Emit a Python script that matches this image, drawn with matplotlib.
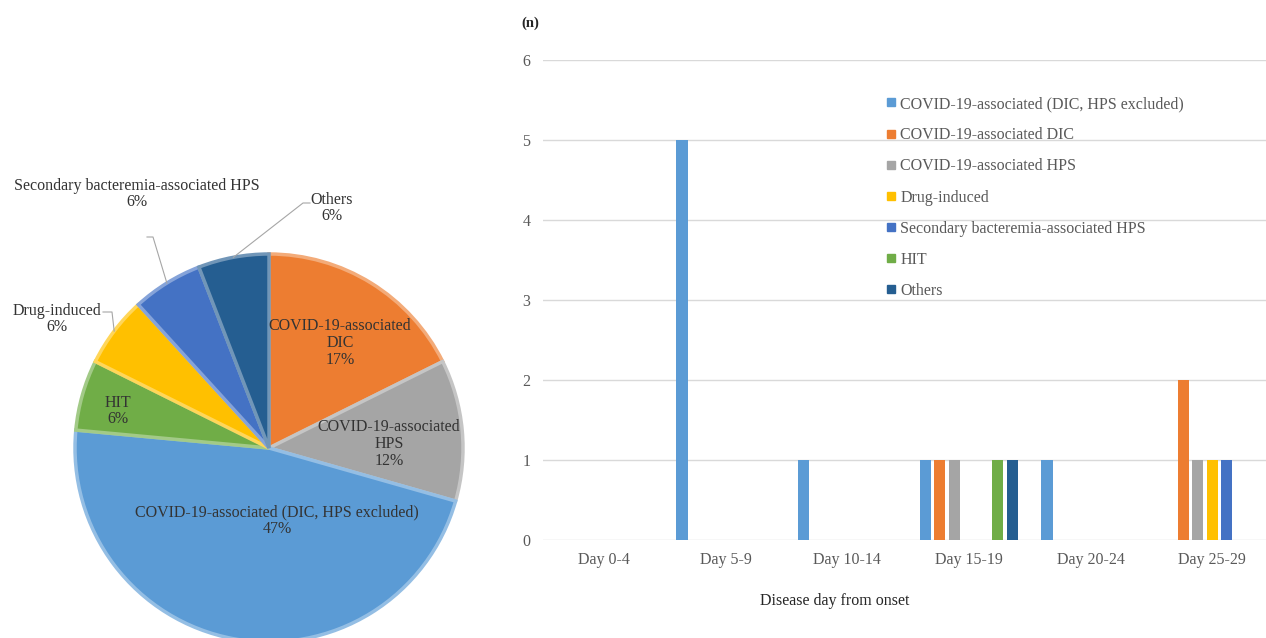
import numpy as np
import matplotlib
matplotlib.use("Agg")
import matplotlib.pyplot as plt
from matplotlib.lines import Line2D
from matplotlib.colors import to_rgb

plt.rcParams['font.family'] = ['Liberation Serif', 'DejaVu Serif']

# ---- data ----
pie_names = ["COVID-19-associated\nDIC", "COVID-19-associated\nHPS",
             "COVID-19-associated (DIC, HPS excluded)", "HIT", "Drug-induced",
             "Secondary bacteremia-associated HPS", "Others"]
pie_counts = [3, 2, 8, 1, 1, 1, 1]
pie_pct = ["17%", "12%", "47%", "6%", "6%", "6%", "6%"]
pie_colors = ["#ED7D31", "#A5A5A5", "#5B9BD5", "#70AD47", "#FFC000", "#4472C4", "#255E91"]

categories = ["Day 0-4", "Day 5-9", "Day 10-14", "Day 15-19", "Day 20-24", "Day 25-29"]
series_names = ["COVID-19-associated (DIC, HPS excluded)", "COVID-19-associated DIC",
                "COVID-19-associated HPS", "Drug-induced",
                "Secondary bacteremia-associated HPS", "HIT", "Others"]
series_colors = ["#5B9BD5", "#ED7D31", "#A5A5A5", "#FFC000", "#4472C4", "#70AD47", "#255E91"]
covid_other = [0, 5, 1, 1, 1, 0]
covid_dic = [0, 0, 0, 1, 0, 2]
covid_hps = [0, 0, 0, 1, 0, 1]
drug = [0, 0, 0, 0, 0, 1]
secondary = [0, 0, 0, 0, 0, 1]
hit = [0, 0, 0, 1, 0, 0]
others = [0, 0, 0, 1, 0, 0]
series_values = [covid_other, covid_dic, covid_hps, drug, secondary, hit, others]

W, H = 1266, 638
fig = plt.figure(figsize=(W / 100, H / 100), dpi=100)
txt = "#333333"
gray = "#595959"

# ---- pie ----
cx, cy, R = 269, 448, 194


def to_data(px, py):
    return (px - cx) / R, (cy - py) / R


ax1 = fig.add_axes([0, 0, 538 / W, 1])
wedges, _ = ax1.pie(pie_counts, colors=pie_colors, startangle=90, counterclock=False,
                    radius=1, wedgeprops=dict(linewidth=2.5))
for w, c in zip(wedges, pie_colors):
    r, g, b = to_rgb(c)
    w.set_edgecolor((r + (1 - r) * 0.35, g + (1 - g) * 0.35, b + (1 - b) * 0.35))
ax1.set_xlim(-cx / R, (538 - cx) / R)
ax1.set_ylim(-(H - cy) / R, cy / R)
ax1.set_aspect('auto')
ax1.axis('off')

# label centres in pixels
label_pos = [(340, 343), (389, 444), (277, 521), (118, 411), (57, 319), (137, 194), (332, 208)]
for name, pct, (px, py) in zip(pie_names, pie_pct, label_pos):
    x, y = to_data(px, py)
    ax1.text(x, y, name + "\n" + pct, ha='center', va='center', fontsize=11.5,
             color=txt, linespacing=1.05)

# leader lines for outside labels: (start, knee) in pixels, end on the wedge
leaders = {4: ((103, 312), (112, 312)), 5: ((147, 237), (153, 237)), 6: ((310, 203), (303, 203))}
for i, ((px0, py0), (px1, py1)) in leaders.items():
    w = wedges[i]
    mid = np.deg2rad((w.theta1 + w.theta2) / 2)
    ex, ey = np.cos(mid), np.sin(mid)
    sx, sy = to_data(px0, py0)
    kx, ky = to_data(px1, py1)
    ax1.plot([sx, kx, ex], [sy, ky, ey], color="#A6A6A6", lw=0.8)

# ---- bars ----
ax2 = fig.add_axes([543 / W, 98 / H, 730 / W, 480 / H])
x = np.arange(len(categories))
slot = 0.119
for i, (name, vals, c) in enumerate(zip(series_names, series_values, series_colors)):
    ax2.bar(x + (i - 3) * slot, vals, 0.092, color=c, label=name, zorder=3)

ax2.set_xlim(-0.5, len(categories) - 0.5)
ax2.set_ylim(0, 6)
ax2.set_yticks(range(7))
ax2.set_xticks(x)
ax2.set_xticklabels(categories)
ax2.grid(axis='y', color="#D9D9D9", lw=1, zorder=0)
for s in ax2.spines.values():
    s.set_visible(False)
ax2.tick_params(length=0, labelsize=11.5, colors=gray, pad=9)

handles = [Line2D([], [], marker='s', ls='', color=c, markersize=6) for c in series_colors]
ax2.legend(handles, series_names, loc='upper left', bbox_to_anchor=(878 / W, 1 - 88 / H),
           bbox_transform=fig.transFigure, frameon=False, fontsize=11.5, labelcolor=gray,
           handlelength=0.6, handletextpad=0.3, labelspacing=0.95, borderpad=0)

fig.text(530 / W, 1 - 23 / H, "(n)", ha='center', va='center', fontsize=10.5,
         color="#262626", fontweight='bold')
fig.text(835 / W, 1 - 601 / H, "Disease day from onset", ha='center', va='center',
         fontsize=11.5, color="#262626")

fig.savefig("out.png", dpi=100)
